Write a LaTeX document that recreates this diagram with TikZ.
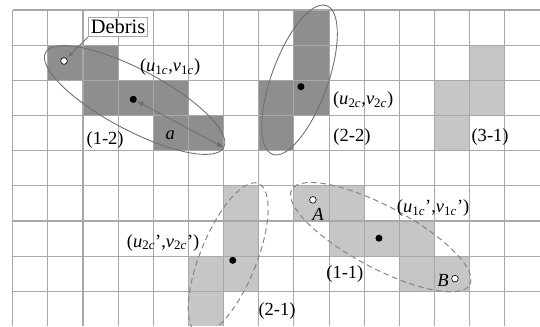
\documentclass[tikz,border=0pt]{standalone}
\usepackage{fontspec}
\setmainfont{Liberation Serif}
\usetikzlibrary{arrows.meta,positioning,calc}
\definecolor{DarkCell}{HTML}{8E8E8E}
\definecolor{LightCell}{HTML}{C6C6C6}
\definecolor{GridGray}{HTML}{A8A8A8}
\definecolor{RingGray}{HTML}{6E6E6E}

\begin{document}
\begin{tikzpicture}[
    font=\fontsize{15}{18}\selectfont,
    dark/.style={fill=DarkCell},
    light/.style={fill=LightCell},
    gridline/.style={draw=GridGray, line width=0.9pt},
    ring/.style={draw=RingGray, line width=0.7pt},
    dring/.style={draw=RingGray!85, line width=0.8pt, dash pattern=on 4.5pt off 3pt},
    dot/.style={circle, fill=black, inner sep=0pt, minimum size=0.2cm},
    hole/.style={circle, draw=black, fill=white, line width=0.5pt, inner sep=0pt, minimum size=0.19cm},
    lbl/.style={inner sep=1pt},
    tag/.style={draw=GridGray, line width=0.9pt, fill=white, inner sep=2pt, font=\fontsize{16.5}{19}\selectfont},
    arrow/.style={{Latex[length=2mm]}-{Latex[length=2mm]}, draw=RingGray, line width=0.6pt},
    pointer/.style={-{Latex[length=1.5mm]}, draw=RingGray, line width=0.6pt, shorten >=1.5pt}
]
\useasboundingbox (-0.36,0.285) rectangle (15,-9);
\clip (-0.36,0.285) rectangle (15,-9);

% occupied cells
\foreach \c/\r in {1/1,2/1,2/2,3/2,4/2,4/3,5/3,8/0,8/1,7/2,8/2,7/3}
  \fill[dark] (\c,-\r) rectangle ++(1,-1);
\foreach \c/\r in {13/1,12/2,13/2,12/3,6/5,6/6,5/7,6/7,5/8,8/5,9/5,9/6,10/6,11/6,11/7,12/7}
  \fill[light] (\c,-\r) rectangle ++(1,-1);

% grid
\foreach \x in {0,...,14} \draw[gridline] (\x,0) -- (\x,-9);
\foreach \y in {0,...,8} \draw[gridline] (0,-\y) -- (15,-\y);

% clusters
\coordinate (c12) at (3.47,-2.56);
\coordinate (e12) at ($(c12)+(-28:2.87)$);
\draw[ring] (c12) ellipse[x radius=2.87, y radius=0.86, rotate=-28];
\draw[ring] (8.16,-1.99) ellipse[x radius=0.8, y radius=2.25, rotate=-20];
\draw[dring] (6.13,-7.07) ellipse[x radius=0.8, y radius=2.3, rotate=-22];
\draw[dring] (10.47,-6.46) ellipse[x radius=2.87, y radius=0.88, rotate=-28];

% centres and debris
\node[dot] (m12) at (3.43,-2.54) {};
\node[dot] (m22) at (8.2,-2.18) {};
\node[dot] (m21) at (6.26,-7.12) {};
\node[dot] (m11) at (10.42,-6.49) {};
\node[hole] (deb) at (1.46,-1.45) {};
\node[hole] (ptA) at (8.54,-5.4) {};
\node[hole] (ptB) at (12.58,-7.64) {};

\node[tag] (debris) at (3.0,-0.48) {Debris};
\draw[pointer] (debris.south west) -- (deb);
\draw[arrow] (m12) -- (e12);

% labels
\node[lbl] (a) at (4.48,-3.55) {\textit{a}};
\node[lbl] (q12) at (4.48,-1.62) {(\textit{u}\textsubscript{1\textit{c}},\textit{v}\textsubscript{1\textit{c}})};
\node[lbl] (q22) at (9.97,-2.56) {(\textit{u}\textsubscript{2\textit{c}},\textit{v}\textsubscript{2\textit{c}})};
\node[lbl] (q21) at (4.28,-6.62) {(\textit{u}\textsubscript{2\textit{c}}’,\textit{v}\textsubscript{2\textit{c}}’)};
\node[lbl] (q11) at (11.96,-5.63) {(\textit{u}\textsubscript{1\textit{c}}’,\textit{v}\textsubscript{1\textit{c}}’)};
\node[lbl] (n12) at (2.63,-3.69) {(1-2)};
\node[lbl] (n22) at (9.65,-3.61) {(2-2)};
\node[lbl] (n31) at (13.58,-3.61) {(3-1)};
\node[lbl] (n21) at (7.52,-8.55) {(2-1)};
\node[lbl] (n11) at (9.45,-7.5) {(1-1)};
\node[lbl] (la) at (8.69,-5.82) {\textit{A}};
\node[lbl] (lb) at (12.24,-7.7) {\textit{B}};
\end{tikzpicture}
\end{document}
